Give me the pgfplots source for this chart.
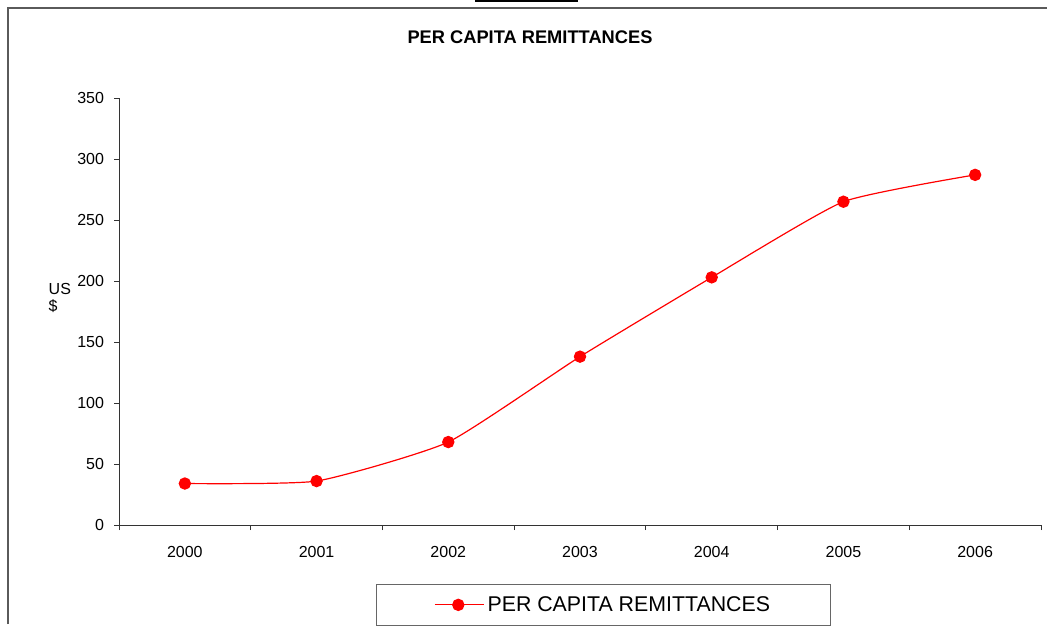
\documentclass[border=0pt]{standalone}
\usepackage{fontspec}
\setmainfont{Liberation Sans}
\usepackage{pgfplots}
\pgfplotsset{compat=1.18}
\definecolor{framegray}{RGB}{90,90,90}
\begin{document}
\begin{tikzpicture}
\begin{scope}[x=0.75pt,y=-0.75pt]
  \useasboundingbox (0,0) rectangle (1047,624);
  \fill[white] (0,0) rectangle (1047,624);
  \draw[framegray,line width=1.5pt] (8,624) -- (8,8) -- (1047,8);
  \draw[black,line width=1.5pt] (475,1) -- (578,1);
  \node[font=\fontsize{13.7}{16}\selectfont\bfseries] at (530,37) {PER CAPITA REMITTANCES};
  \node[anchor=west,align=left,font=\fontsize{12}{13}\selectfont] at (44,298) {US\\\$};
\end{scope}
\begin{axis}[
  at={(119*0.75pt,-525*0.75pt)}, anchor=south west,
  scale only axis,
  width=922*0.75pt, height=427*0.75pt,
  xmin=-0.5, xmax=6.5, ymin=0, ymax=350,
  axis lines*=left,
  axis line style={black!80, line width=0.6pt},
  tick align=outside,
  xtick={0,...,6},
  xticklabels={2000,2001,2002,2003,2004,2005,2006},
  major x tick style={draw=none},
  minor xtick={-0.5,0.5,...,6.5},
  minor tick length=3.75pt,
  major tick length=3.75pt,
  tick style={black!80, line width=0.6pt},
  ytick={0,50,...,350},
  /pgf/number format/assume math mode=true,
  ticklabel style={font=\fontsize{12}{14}\selectfont},
  xticklabel style={yshift=-9pt},
  yticklabel style={xshift=-4pt},
  legend style={at={(0.2787,-0.1382)}, anchor=north west, draw=black!60,
    line width=0.6pt, inner xsep=43.5pt, inner ysep=7pt,
    font=\fontsize{16}{18}\selectfont},
  legend image code/.code={\path (0pt,0pt) -- (37pt,0pt); \draw[mark repeat=2,mark phase=2,#1] plot coordinates {(0pt,0pt) (17.5pt,0pt) (35pt,0pt)};},
  clip=false,
]
\addplot[red, line width=0.9pt, smooth, tension=0.3, mark=*, mark size=4.2pt, mark options={solid, fill=red, draw=red}]
  coordinates {(0,34) (1,36) (2,68) (3,138) (4,203) (5,265) (6,287)};
\addlegendentry{PER CAPITA REMITTANCES}
\end{axis}
\end{tikzpicture}
\end{document}
